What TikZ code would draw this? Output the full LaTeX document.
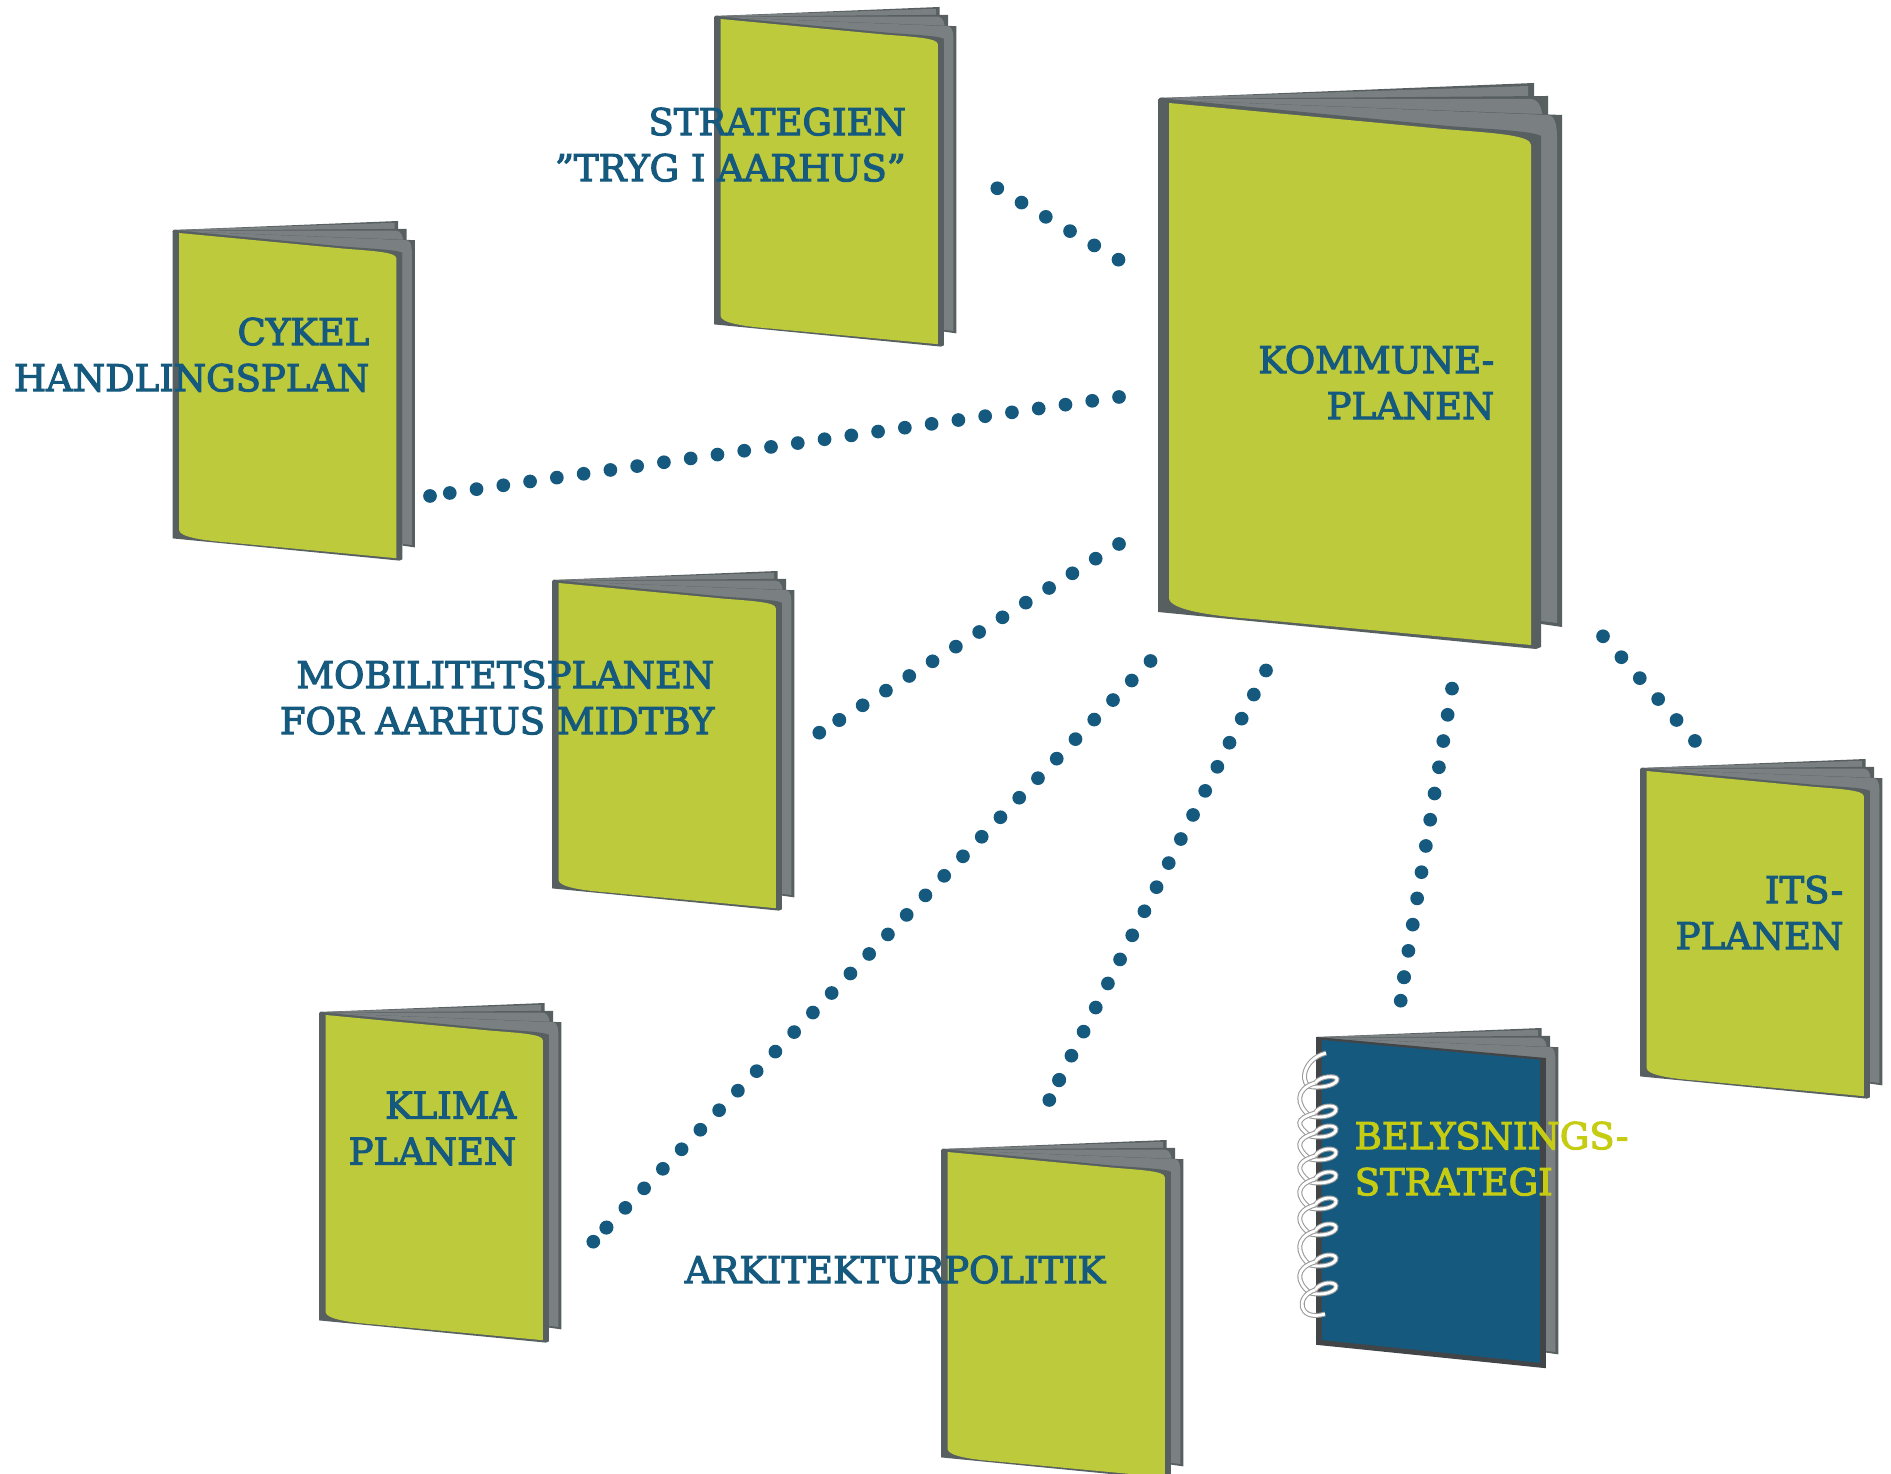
\documentclass[tikz,border=0pt]{standalone}
\usepackage{fontspec}
\setmainfont[FakeBold=3]{DejaVu Serif}
\usetikzlibrary{positioning}

\definecolor{bookgreen}{HTML}{BDCA3B}
\definecolor{planblue}{HTML}{155A7E}
\definecolor{coverdark}{HTML}{585F61}
\definecolor{coverblack}{HTML}{414548}
\definecolor{pagegrey}{HTML}{7A7F82}
\definecolor{lightyellow}{HTML}{C5CC12}

\newcommand{\bookpages}{
  \fill[coverdark] (2,0) -- (376,-15) -- (376,25) -- (0,3) -- cycle;
  \fill[pagegrey] (2,0) -- (370,-12) -- (370,18) -- cycle;
  \fill[coverdark] (5,1) -- (390,-2) -- (390,30) -- cycle;
  \fill[pagegrey] (5,1) -- (373,1) .. controls (382,2) and (384,10) .. (386,28) -- cycle;
  \fill[coverdark] (8,2) -- (404,17) -- (404,529) -- (383,526) -- (383,40) -- cycle;
  \fill[pagegrey] (8,2) -- (390,17) .. controls (396,17) and (399,25) .. (399,40)
    -- (399,525) -- (383,523) -- (383,40) -- cycle;
}

\tikzset{
  book/.pic={
    \bookpages
    \fill[coverdark] (0,2) .. controls (0,0) and (5,-2) .. (10,1) -- (290,28)
      .. controls (330,31) and (375,33) .. (383,38) -- (383,549) -- (378,551) -- (0,514) -- cycle;
    \fill[bookgreen] (11,5) -- (285,31) .. controls (335,35) and (373,37) .. (373,47)
      -- (373,547) -- (95,521) .. controls (55,518) and (11,512) .. (11,500) -- cycle;
  },
  notebook/.pic={
    \bookpages
    \fill[coverblack] (0,0) -- (383,35) -- (383,552) -- (0,513) -- cycle;
    \fill[planblue] (10,5) -- (373,38) -- (373,543) -- (10,505) -- cycle;
  },
  label/.style={inner sep=0pt, text=planblue, align=right, anchor=north east,
    font=\fontsize{10.5}{13.1}\selectfont},
  dotline/.style={draw=planblue, line width=3.9pt, line cap=round},
  coil/.style={draw=black!40, double=white, double distance=0.8pt, line width=0.3pt}
}

\begin{document}
\begin{tikzpicture}[x=0.01cm, y=-0.01cm]
  \path[use as bounding box, clip] (0,0) rectangle (1891,1474);

  \pic[scale=0.6] at (714,16) {book};
  \pic[scale=0.6] at (172.5,230) {book};
  \pic[scale=0.6] at (552,580) {book};
  \pic[scale=0.6] at (319,1012) {book};
  \pic[scale=0.6] at (941,1149) {book};
  \pic[scale=0.6] at (1640,768) {book};
  \pic[scale=0.6] at (1316,1037) {notebook};
  \pic at (1158,98) {book};

  % spiralen
  \draw[coil] (1326,1053) .. controls (1300,1060) and (1300,1088) .. (1313,1087)
    .. controls (1325,1088) and (1338,1084) .. (1337,1079) .. controls (1336,1075) and (1320,1076) .. (1315,1083);
  \foreach \ya/\yb in {1081/1111, 1111/1131, 1131/1154, 1154/1177, 1177/1203, 1203/1229, 1229/1260, 1260/1288} {
    \draw[coil] (1315,\ya+2) .. controls (1295,\ya+8) and (1296,\yb-6) .. (1310,\yb+5)
      .. controls (1322,\yb+8) and (1337,\yb+4) .. (1336,\yb-2) .. controls (1335,\yb-7) and (1320,\yb-6) .. (1315,\yb+2);
  }
  \draw[coil] (1315,1290) .. controls (1295,1296) and (1298,1322) .. (1325,1314);

  % tekster
  \node[label] (strategien) at (906.5,107) {STRATEGIEN\\”TRYG I AARHUS”};
  \node[label] (cykel) at (370,317) {CYKEL\\HANDLINGSPLAN};
  \node[label] (mobilitet) at (715,660) {MOBILITETSPLANEN\\FOR AARHUS MIDTBY};
  \node[label] (kommune) at (1495,345) {KOMMUNE-\\PLANEN};
  \node[label] (klima) at (517,1091) {KLIMA\\PLANEN};
  \node[label] (arkitektur) at (1106,1255) {ARKITEKTURPOLITIK};
  \node[label] (its) at (1844,875) {ITS-\\PLANEN};
  \node[label, text=lightyellow, align=left, anchor=north west] (belysning) at (1354,1121) {BELYSNINGS-\\STRATEGI};

  \coordinate (kA) at (1119,260);
  \coordinate (kB) at (1119,397);
  \coordinate (kC) at (1119,544);
  \coordinate (kD) at (1150.5,661);
  \coordinate (kE) at (1266,670.5);
  \coordinate (kF) at (1452,688.6);
  \coordinate (kG) at (1603,636.3);
  \coordinate (strategienEnd) at (997.3,188.3);
  \coordinate (cykelEnd) at (430,496);
  \coordinate (cykelNext) at (449.7,493);
  \coordinate (mobilitetEnd) at (819.3,732.7);
  \coordinate (mobilitetNext) at (839.3,720);
  \coordinate (klimaEnd) at (593.3,1241.7);
  \coordinate (klimaNext) at (606.3,1227.7);
  \coordinate (arkitekturEnd) at (1049.3,1100);
  \coordinate (arkitekturNext) at (1059,1080.3);
  \coordinate (belysningEnd) at (1400.7,1000.7);
  \coordinate (belysningNext) at (1404,977.3);
  \coordinate (itsEnd) at (1695,741);

  \draw[dotline, dash pattern=on 0pt off 8.00pt] (strategienEnd) -- (kA);
  \draw[dotline, dash pattern=on 0pt off 7.69pt] (kB) -- (cykelNext);
  \draw[dotline, dash pattern=on 0pt off 5.68pt] (cykelEnd) -- (cykelNext);
  \draw[dotline, dash pattern=on 0pt off 7.83pt] (kC) -- (mobilitetNext);
  \draw[dotline, dash pattern=on 0pt off 6.73pt] (mobilitetEnd) -- (mobilitetNext);
  \draw[dotline, dash pattern=on 0pt off 7.70pt] (kD) -- (klimaNext);
  \draw[dotline, dash pattern=on 0pt off 5.42pt] (klimaEnd) -- (klimaNext);
  \draw[dotline, dash pattern=on 0pt off 7.67pt] (kE) -- (arkitekturNext);
  \draw[dotline, dash pattern=on 0pt off 6.24pt] (arkitekturEnd) -- (arkitekturNext);
  \draw[dotline, dash pattern=on 0pt off 7.56pt] (kF) -- (belysningNext);
  \draw[dotline, dash pattern=on 0pt off 6.70pt] (belysningEnd) -- (belysningNext);
  \draw[dotline, dash pattern=on 0pt off 7.92pt] (kG) -- (itsEnd);
\end{tikzpicture}
\end{document}
